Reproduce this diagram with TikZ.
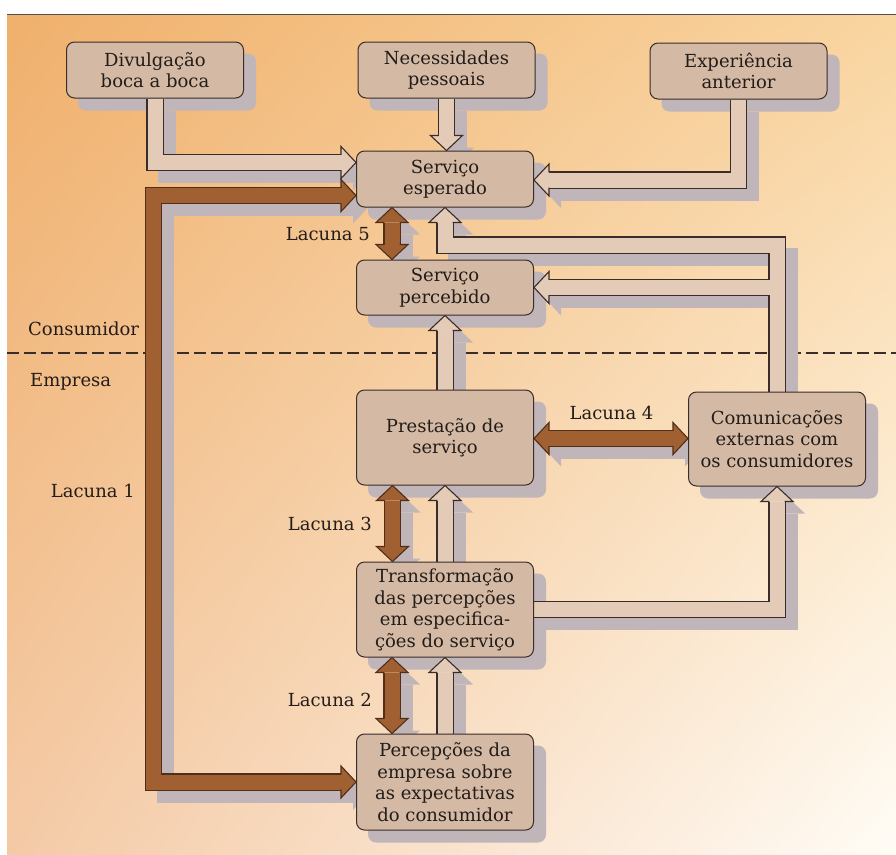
\documentclass[tikz,border=0pt]{standalone}
\usepackage{fontspec}
\setmainfont{DejaVu Serif}
\usetikzlibrary{calc,shadings}
\pgfdeclarelayer{back}
\pgfdeclarelayer{mid}
\pgfsetlayers{back,mid,main}

\definecolor{inkC}{RGB}{58,44,40}
\definecolor{textC}{RGB}{35,28,25}
\definecolor{boxC}{RGB}{212,186,164}
\definecolor{arrC}{RGB}{228,203,184}
\definecolor{brownC}{RGB}{160,96,50}
\definecolor{browninkC}{RGB}{80,46,26}
\definecolor{shadeC}{RGB}{192,181,185}
\definecolor{bgUL}{RGB}{240,176,108}
\definecolor{bgUR}{RGB}{249,213,160}
\definecolor{bgLL}{RGB}{244,202,166}
\definecolor{bgLR}{RGB}{255,252,246}

% arrow head: tip point, direction angle, fill colour, outline colour
\newcommand{\blocktip}[4]{%
  \begin{scope}[shift={#1}, rotate=#2]
    \fill[#3] (-15,16) -- (0,0) -- (-15,-16) -- cycle;
    \draw[#4, line width=1.1pt, line join=miter]
      (-15,7.7) -- (-15,16) -- (0,0) -- (-15,-16) -- (-15,-7.7);
  \end{scope}}
\newcommand{\blocktipshadow}[2]{%
  \begin{scope}[shift={#1}, rotate=#2]
    \fill[shadeC] (-15,16) -- (0,0) -- (-15,-16) -- cycle;
  \end{scope}}

% hollow arrow bodies
\newcommand{\pDiv}[1]{\draw[#1] (div.south) |- ($(esp.west)+(-15,-16.5)$);}
\newcommand{\pNec}[1]{\draw[#1] (nec.south) -- ($(nec.south |- esp.north)+(0,-15)$);}
\newcommand{\pExp}[1]{\draw[#1] (exp.south) |- ($(esp.east)+(15,1)$);}
\newcommand{\pComE}[1]{\draw[#1] (com.north) |- ($(esp.south)+(0,37.5)$) -- ($(esp.south)+(0,15)$);}
\newcommand{\pComP}[1]{\draw[#1] (com.north) |- ($(per.east)+(15,0)$);}
\newcommand{\pPre}[1]{\draw[#1] (pre.north) -- ($(pre.north |- per.south)+(0,15)$);}
\newcommand{\pTraUp}[1]{\draw[#1] (tra.north) -- ($(tra.north |- pre.south)+(0,15)$);}
\newcommand{\pPce}[1]{\draw[#1] (pce.north) -- ($(pce.north |- tra.south)+(0,15)$);}
\newcommand{\pTraCom}[1]{\draw[#1] (tra.east) -| ($(com.south)+(0,15)$);}
% gap arrows
\newcommand{\pLacA}[1]{\draw[#1] ($(esp.west)+(-15,16.5)$) -| ($(pce.west)+(-202.5,0)$) -- ($(pce.west)+(-15,0)$);}
\newcommand{\pLacE}[1]{\draw[#1] ($(esp.south)+(-53,15)$) -- ($(per.north)+(-53,-15)$);}
\newcommand{\pLacC}[1]{\draw[#1] ($(pre.south)+(-52.5,15)$) -- ($(tra.north)+(-52.5,-15)$);}
\newcommand{\pLacB}[1]{\draw[#1] ($(tra.south)+(-53,15)$) -- ($(pce.north)+(-53,-15)$);}
\newcommand{\pLacD}[1]{\draw[#1] ($(pre.east)+(15,1)$) -- ($(com.west)+(-15,-0.5)$);}

\newcommand{\allhollow}[1]{\pDiv{#1}\pNec{#1}\pExp{#1}\pComE{#1}\pComP{#1}\pPre{#1}\pTraUp{#1}\pPce{#1}\pTraCom{#1}}
\newcommand{\allgap}[1]{\pLacA{#1}\pLacE{#1}\pLacC{#1}\pLacB{#1}\pLacD{#1}}

\begin{document}
\begin{tikzpicture}[x=1pt,y=-1pt,
  box/.style={draw=inkC, line width=1pt, fill=boxC, rounded corners=8pt,
    minimum width=177pt, inner sep=0pt, align=center, text=textC,
    font=\fontsize{18}{21.5}\selectfont},
  lbl/.style={inner sep=0pt, text=textC, font=\fontsize{18}{21.5}\selectfont},
  barout/.style={draw=inkC, line width=17.4pt},
  barin/.style={draw=arrC, line width=15pt},
  gapout/.style={draw=browninkC, line width=17.4pt},
  gapin/.style={draw=brownC, line width=15pt},
  shbar/.style={draw=shadeC, line width=17.4pt}]
\useasboundingbox (0,0) rectangle (896,854);

% boxes
\node[box, minimum height=56pt] (div) at (155,70) {Divulgação\\boca a boca};
\node[box, minimum height=56pt] (nec) at (446.5,70) {Necessidades\\pessoais};
\node[box, minimum height=56pt] (exp) at (738.5,71) {Experiência\\anterior};
\node[box, minimum height=56pt] (esp) at (445,179) {Serviço\\esperado};
\node[box, minimum height=55pt] (per) at (445,287.5) {Serviço\\percebido};
\node[box, minimum height=95pt] (pre) at (445,437.5) {Prestação de\\serviço};
\node[box, minimum height=94pt] (com) at (777,439) {Comunicações\\externas com\\os consumidores};
\node[box, minimum height=95pt] (tra) at (445,609.5) {Transformação\\das percepções\\em especifica-\\ções do serviço};
\node[box, minimum height=96pt] (pce) at (445,782) {Percepções da\\empresa sobre\\as expectativas\\do consumidor};

% labels
\node[lbl, anchor=base west] (tcons) at (28,335) {Consumidor};
\node[lbl, anchor=base west] (temp) at (30,386) {Empresa};
\node[lbl, anchor=base east] (tl1) at (135,497) {Lacuna 1};
\node[lbl, anchor=base east] (tl5) at (370,240) {Lacuna 5};
\node[lbl, anchor=base east] (tl3) at (372,530) {Lacuna 3};
\node[lbl, anchor=base east] (tl2) at (372,706) {Lacuna 2};
\node[lbl, anchor=base] (tl4) at (611.5,419) {Lacuna 4};

\begin{pgfonlayer}{back}
  \fill[white] (0,0) rectangle (896,854);
  \shade[upper left=bgUL, upper right=bgUR, lower left=bgLL, lower right=bgLR]
    (7,14) rectangle (896,854);
  \draw[inkC!85, line width=1pt] (7,14) -- (896,14);
  % consumer / company boundary
  \draw[inkC, line width=1.1pt, dash pattern=on 12pt off 5pt] (7,353) -- (896,353);
  % shadows
  \begin{scope}[transform canvas={shift={(12pt,-12pt)}}]
    \foreach \n in {div,nec,exp,esp,per,pre,com,tra,pce}
      \fill[shadeC, rounded corners=8pt] (\n.north west) rectangle (\n.south east);
    \allhollow{shbar}
    \allgap{shbar}
    \blocktipshadow{($(esp.west)+(0,-16.5)$)}{0}
    \blocktipshadow{(nec.south |- esp.north)}{-90}
    \blocktipshadow{($(esp.east)+(0,1)$)}{180}
    \blocktipshadow{(esp.south)}{90}
    \blocktipshadow{(per.east)}{180}
    \blocktipshadow{(pre.north |- per.south)}{90}
    \blocktipshadow{(tra.north |- pre.south)}{90}
    \blocktipshadow{(pce.north |- tra.south)}{90}
    \blocktipshadow{(com.south)}{90}
    \blocktipshadow{($(esp.west)+(0,16.5)$)}{0}
    \blocktipshadow{(pce.west)}{0}
    \blocktipshadow{($(esp.south)+(-53,0)$)}{90}
    \blocktipshadow{($(per.north)+(-53,0)$)}{-90}
    \blocktipshadow{($(pre.south)+(-52.5,0)$)}{90}
    \blocktipshadow{($(tra.north)+(-52.5,0)$)}{-90}
    \blocktipshadow{($(tra.south)+(-53,0)$)}{90}
    \blocktipshadow{($(pce.north)+(-53,0)$)}{-90}
    \blocktipshadow{($(pre.east)+(0,1)$)}{180}
    \blocktipshadow{($(com.west)+(0,-0.5)$)}{0}
  \end{scope}
\end{pgfonlayer}

\begin{pgfonlayer}{mid}
  % hollow arrows: dark edge strokes first, then the light body strokes
  \allhollow{barout}
  \allhollow{barin}
  \blocktip{($(esp.west)+(0,-16.5)$)}{0}{arrC}{inkC}
  \blocktip{(nec.south |- esp.north)}{-90}{arrC}{inkC}
  \blocktip{($(esp.east)+(0,1)$)}{180}{arrC}{inkC}
  \blocktip{(esp.south)}{90}{arrC}{inkC}
  \blocktip{(per.east)}{180}{arrC}{inkC}
  \blocktip{(pre.north |- per.south)}{90}{arrC}{inkC}
  \blocktip{(tra.north |- pre.south)}{90}{arrC}{inkC}
  \blocktip{(pce.north |- tra.south)}{90}{arrC}{inkC}
  \blocktip{(com.south)}{90}{arrC}{inkC}
  % gap arrows
  \allgap{gapout}
  \allgap{gapin}
  \blocktip{($(esp.west)+(0,16.5)$)}{0}{brownC}{browninkC}
  \blocktip{(pce.west)}{0}{brownC}{browninkC}
  \blocktip{($(esp.south)+(-53,0)$)}{90}{brownC}{browninkC}
  \blocktip{($(per.north)+(-53,0)$)}{-90}{brownC}{browninkC}
  \blocktip{($(pre.south)+(-52.5,0)$)}{90}{brownC}{browninkC}
  \blocktip{($(tra.north)+(-52.5,0)$)}{-90}{brownC}{browninkC}
  \blocktip{($(tra.south)+(-53,0)$)}{90}{brownC}{browninkC}
  \blocktip{($(pce.north)+(-53,0)$)}{-90}{brownC}{browninkC}
  \blocktip{($(pre.east)+(0,1)$)}{180}{brownC}{browninkC}
  \blocktip{($(com.west)+(0,-0.5)$)}{0}{brownC}{browninkC}
\end{pgfonlayer}
\end{tikzpicture}
\end{document}
